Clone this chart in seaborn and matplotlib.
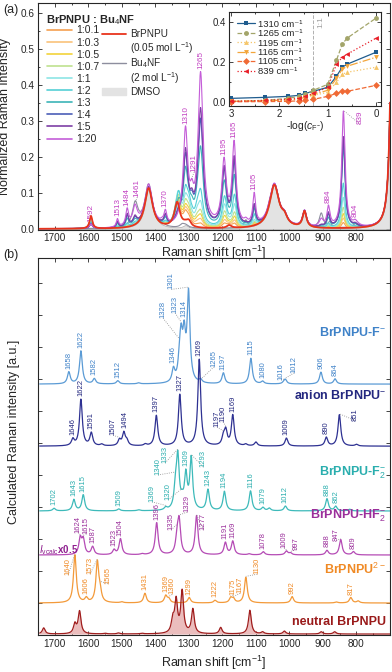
import numpy as np
import matplotlib
matplotlib.use("Agg")
import matplotlib.pyplot as plt
import seaborn as sns
from matplotlib.lines import Line2D
from matplotlib.patches import Patch
from matplotlib.ticker import MultipleLocator, NullFormatter, FixedLocator

sns.set_theme(style="ticks")
plt.rcParams['font.family'] = ['Liberation Sans', 'DejaVu Sans']
plt.rcParams['mathtext.fontset'] = 'custom'
plt.rcParams['mathtext.rm'] = 'Liberation Sans'
plt.rcParams['mathtext.it'] = 'Liberation Sans:italic'
plt.rcParams['mathtext.bf'] = 'Liberation Sans:bold'
plt.rcParams['axes.linewidth'] = 0.8

# ---------------- (a) measured Raman spectra ----------------
ratios = ['1:0.1', '1:0.3', '1:0.5', '1:0.7', '1:1', '1:2', '1:3', '1:4', '1:5', '1:20']
ratio_values = [0.1, 0.3, 0.5, 0.7, 1, 2, 3, 4, 5, 20]
ratio_colors = ['#F5A050', '#F9C27A', '#F2D33B', '#BFE28F', '#8EE5E5',
                '#55D0D6', '#3CB4B8', '#4B5FB8', '#7E3FA6', '#C45DD8']

# inset: band intensity vs -log(c_F-), first point = BrPNPU alone
neg_log_cf = [3.0, 2.3, 1.82, 1.6, 1.46, 1.3, 1.0, 0.82, 0.7, 0.6, 0.0]
band_pos = [1310, 1265, 1195, 1165, 1105, 839]
band_hw = [8, 9, 8, 7, 5, 6]
band_1310 = [0.02, 0.025, 0.03, 0.035, 0.045, 0.055, 0.075, 0.13, 0.175, 0.19, 0.25]
band_1265 = [0.005, 0.01, 0.02, 0.03, 0.04, 0.06, 0.09, 0.21, 0.29, 0.32, 0.42]
band_1195 = [0.005, 0.008, 0.012, 0.018, 0.025, 0.035, 0.05, 0.10, 0.14, 0.15, 0.175]
band_1165 = [0.005, 0.008, 0.012, 0.018, 0.025, 0.04, 0.06, 0.12, 0.165, 0.18, 0.225]
band_1105 = [0.003, 0.004, 0.005, 0.008, 0.01, 0.015, 0.03, 0.045, 0.055, 0.055, 0.085]
band_839 = [0.005, 0.01, 0.015, 0.02, 0.03, 0.045, 0.075, 0.19, 0.225, 0.24, 0.32]
bands = [band_1310, band_1265, band_1195, band_1165, band_1105, band_839]
band_colors = ['#1F5C8E', '#A3A56A', '#F5C66A', '#F3A53A', '#F06A35', '#E8202A']
band_markers = ['s', 'o', '^', 'v', 'D', '<']
band_styles = ['-', '--', ':', '-.', '--', ':']

# DMSO solvent
dmso_pos = [1420, 1310, 1045, 1015, 955, 693]
dmso_int = [0.112, 0.008, 0.12, 0.02, 0.045, 0.7]
dmso_hw = [14, 10, 17, 10, 7, 7]

# Bu4N+ bands of the 2 mol/L Bu4NF solution
tba_pos = [1460, 1420, 1380, 1320, 1130, 1060, 905, 880, 800]
tba_int = [0.065, 0.012, 0.01, 0.008, 0.02, 0.012, 0.04, 0.015, 0.012]
tba_hw = [10, 12, 6, 8, 6, 8, 7, 6, 12]

# neutral BrPNPU (0.05 mol/L)
neut_pos = [1592, 1335, 1300, 1180]
neut_int = [0.035, 0.07, 0.015, 0.008]
neut_hw = [5, 10, 8, 8]
neutral_share = [0.95, 0.9, 0.85, 0.8, 0.7, 0.45, 0.25, 0.12, 0.08, 0.0]

# intermediate species (strongest near 1:2)
inter_pos = [1330, 1300, 1275, 1192, 1162, 840]
inter_int = [0.06, 0.04, 0.03, 0.035, 0.03, 0.05]
inter_hw = [8, 8, 8, 7, 6, 6]
inter_share = [0.1, 0.25, 0.4, 0.55, 0.8, 1.0, 0.7, 0.35, 0.25, 0.05]

# other product bands (heights at 1:20)
prod_pos = [1592, 1513, 1484, 1461, 1370, 1291, 884, 804]
prod_int = [0.012, 0.022, 0.045, 0.02, 0.035, 0.05, 0.05, 0.008]
prod_hw = [5, 4, 5, 6, 5, 6, 5, 6]

# ---------------- (b) calculated spectra ----------------
f1_pos = [1658, 1622, 1582, 1512, 1450, 1346, 1328, 1323, 1314, 1301, 1265, 1197, 1115, 1080, 1016, 1012, 906, 864]
f1_int = [0.37, 1.03, 0.16, 0.1, 0.03, 0.4, 0.5, 1.2, 1.3, 2.75, 0.1, 0.34, 0.8, 0.08, 0.05, 0.12, 0.37, 0.16]
an_pos = [1646, 1622, 1591, 1560, 1507, 1494, 1485, 1430, 1397, 1327, 1269, 1197, 1190, 1169, 1130, 1100, 1009, 890, 851, 800]
an_int = [0.2, 1.45, 0.4, 0.05, 0.18, 0.4, 0.15, 0.05, 0.95, 1.6, 2.7, 0.25, 0.45, 0.95, 0.05, 0.12, 0.25, 0.27, 0.98, 0.05]
f2_pos = [1702, 1643, 1615, 1509, 1450, 1369, 1340, 1333, 1320, 1309, 1293, 1243, 1194, 1116, 1079, 1060, 1012, 888, 862, 820]
f2_int = [0.08, 0.35, 0.5, 0.06, 0.03, 0.08, 0.6, 1.6, 0.2, 1.05, 1.6, 0.65, 0.6, 0.62, 0.1, 0.08, 0.15, 0.38, 0.14, 0.05]
hf_pos = [1624, 1615, 1587, 1523, 1504, 1440, 1396, 1335, 1329, 1277, 1191, 1169, 1120, 1078, 1009, 997, 888, 847, 809]
hf_int = [0.5, 0.45, 0.25, 0.15, 0.5, 0.03, 1.0, 0.5, 1.0, 1.22, 0.38, 0.42, 0.03, 0.1, 0.12, 0.06, 0.14, 0.48, 0.1]
d2_pos = [1640, 1606, 1573, 1565, 1500, 1431, 1369, 1360, 1299, 1222, 1175, 1167, 1130, 992, 860, 817, 795]
d2_int = [1.5, 0.14, 1.25, 0.3, 0.03, 0.3, 0.22, 0.12, 0.17, 0.08, 0.15, 0.12, 0.8, 0.2, 0.03, 0.17, 0.06]
n_pos = [1733, 1640, 1626, 1550, 1510, 1440, 1348, 1338, 1320, 1288, 1205, 1118, 1080, 1015, 905, 865]
n_int = [0.19, 0.3, 0.7, 0.02, 0.03, 0.02, 0.4, 1.0, 1.3, 0.76, 0.2, 0.74, 0.06, 0.09, 0.07, 0.07]

calc_names = ['BrPNPU-F$^{-}$', 'anion BrPNPU$^{-}$', 'BrPNPU-F$_2^{-}$',
              'BrPNPU-HF$_2^{-}$', 'BrPNPU$^{2-}$', 'neutral BrPNPU']
calc_colors = ['#5B9BD5', '#2E3192', '#3DBABA', '#B54BB5', '#F39A3A', '#A01E1E']
calc_text_colors = ['#3F82C8', '#23277F', '#2AAEAE', '#9B2F9B', '#F08A25', '#9A1A1A']
calc_offsets = [7.84, 5.9, 3.875, 2.5, 1.0, 0.03]
name_y = [9.44, 7.47, 5.06, 3.74, 2.06, 0.4]

# peak labels: (text, peak, text_x, text_y)  None -> just above the peak
f1_labels = [('1658', 1658, None, None), ('1622', 1622, None, None), ('1582', 1582, None, None),
             ('1512', 1512, None, None), ('1346', 1346, None, None), ('1328', 1328, 1377, 9.9),
             ('1323', 1323, 1341, 10.06), ('1314', 1314, None, None), ('1301', 1301, 1352, 10.8),
             ('1265', 1262, 1225, 8.38), ('1197', 1197, None, None), ('1115', 1115, None, None),
             ('1080', 1080, None, None), ('1016', 1016, 1025, 7.97), ('1012', 1012, 986, 8.19),
             ('906', 906, None, None), ('864', 864, None, None)]
an_labels = [('1646', 1646, None, None), ('1622', 1622, None, None), ('1591', 1591, None, None),
             ('1507', 1507, 1526, None), ('1494', 1494, 1490, None), ('1397', 1397, None, None),
             ('1327', 1327, None, None), ('1269', 1269, None, None), ('1197', 1197, 1216, 6.5),
             ('1190', 1190, 1198, 6.66), ('1169', 1169, None, None), ('1009', 1009, None, None),
             ('890', 890, None, None), ('851', 851, 804, 6.7)]
f2_labels = [('1702', 1702, None, None), ('1643', 1643, None, None), ('1615', 1615, None, None),
             ('1509', 1509, None, None), ('1369', 1369, 1410, 4.16), ('1340', 1340, 1392, 5.0),
             ('1333', 1333, 1371, 5.375), ('1320', 1320, 1362, 4.22), ('1309', 1309, None, None),
             ('1293', 1293, 1257, 5.25), ('1243', 1243, None, None), ('1194', 1194, None, None),
             ('1116', 1116, None, None), ('1079', 1079, None, None), ('1012', 1012, None, None),
             ('888', 888, None, None), ('862', 862, None, None)]
hf_labels = [('1624', 1624, 1631, None), ('1615', 1615, 1607, None), ('1587', 1587, None, None),
             ('1523', 1523, None, None), ('1504', 1504, None, None), ('1396', 1396, None, None),
             ('1335', 1335, 1353, 3.28), ('1329', 1329, 1305, 3.84), ('1277', 1277, 1257, 3.28),
             ('1191', 1191, None, None), ('1169', 1169, None, None), ('1078', 1078, None, None),
             ('1009', 1009, 1016, None), ('997', 997, 980, None), ('888', 888, None, None),
             ('847', 847, 860, 2.95), ('809', 809, None, None)]
d2_labels = [('1640', 1640, 1660, 1.87), ('1606', 1606, None, None), ('1573', 1573, 1595, 1.9),
             ('1565', 1565, 1541, 1.6), ('1431', 1431, None, None), ('1369', 1369, None, None),
             ('1360', 1360, 1350, None), ('1299', 1299, None, None), ('1222', 1222, None, None),
             ('1175', 1175, 1168, 1.25), ('1167', 1167, 1147, 1.3), ('1130', 1130, 1096, 1.9),
             ('992', 992, None, None), ('817', 817, None, None)]
a_labels = [('1592', 1592, None, None), ('1513', 1513, None, None), ('1484', 1484, None, None),
            ('1461', 1461, 1454, 0.088), ('1370', 1370, None, None), ('1310', 1310, None, None),
            ('1291', 1291, 1284, 0.158), ('1265', 1265, None, None), ('1195', 1195, None, None),
            ('1165', 1165, None, None), ('1105', 1105, None, None), ('884', 884, None, None),
            ('839', 839, 789, 0.29), ('804', 804, None, None)]

wn = np.linspace(1745, 700, 3000)


def lorentz(pos, hgt, hw):
    out = np.zeros_like(wn)
    for c, h, w in zip(pos, hgt, np.broadcast_to(hw, len(pos))):
        out += h / (1 + ((wn - c) / w) ** 2)
    return out


def put_labels(ax, y, labels, color, fs, pad):
    for text, pk, tx, ty in labels:
        yp = y[np.argmin(abs(wn - pk))]
        tx = pk if tx is None else tx
        ty = yp + pad if ty is None else ty
        ax.text(tx, ty, text, rotation=90, ha='center', va='bottom', fontsize=fs, color=color)
        if abs(tx - pk) > 6 or ty > yp + 2 * pad:
            ax.plot([tx, pk], [ty, yp + pad * 0.3], ls=':', color='#8a8a8a', lw=0.6)


def style_ticks(ax):
    ax.tick_params(which='both', direction='in', top=True, right=True, width=0.6)
    ax.tick_params(which='major', length=3)
    ax.tick_params(which='minor', length=1.6)


fig = plt.figure(figsize=(3.92, 6.72), dpi=100)
ax_a = fig.add_axes([38 / 392, 1 - 230 / 672, 352 / 392, 227 / 672])
ax_b = fig.add_axes([38 / 392, 1 - 635 / 672, 352 / 392, 377 / 672])

# ---- panel (a)
dmso = lorentz(dmso_pos, dmso_int, dmso_hw)
tba = lorentz(tba_pos, tba_int, tba_hw)
neut = lorentz(neut_pos, neut_int, neut_hw)
inter = lorentz(inter_pos, inter_int, inter_hw)
prod = lorentz(prod_pos, prod_int, prod_hw)

ax_a.fill_between(wn, 0, dmso, color='#E3E3E3', lw=0.5, edgecolor='#B0B0B0', zorder=1)
sns.lineplot(x=wn, y=dmso * 0.97 + tba, ax=ax_a, color='#8D8E9E', lw=0.8, sort=False, estimator=None, zorder=2)
curve_20 = None
for i, (r, c) in enumerate(zip(ratio_values, ratio_colors)):
    y = dmso + tba * r * 0.05 / 2 + neut * neutral_share[i] + inter * inter_share[i]
    for b, p, w in zip(bands, band_pos, band_hw):
        y = y + lorentz([p], [b[i + 1]], w)
    y = y + prod * band_1265[i + 1] / band_1265[-1]
    sns.lineplot(x=wn, y=y, ax=ax_a, color=c, lw=0.8, sort=False, estimator=None, zorder=3 + i)
    curve_20 = y
sns.lineplot(x=wn, y=dmso + neut, ax=ax_a, color='#E8341C', lw=1.3, sort=False, estimator=None, zorder=20)
put_labels(ax_a, curve_20, a_labels, '#C13FC1', 5.8, 0.006)

ax_a.set_xlim(1750, 700)
ax_a.set_ylim(-0.003, 0.627)
ax_a.xaxis.set_major_locator(FixedLocator(np.arange(800, 1701, 100)))
ax_a.xaxis.set_minor_locator(MultipleLocator(50))
ax_a.yaxis.set_major_locator(MultipleLocator(0.1))
ax_a.yaxis.set_minor_locator(MultipleLocator(0.05))
ax_a.yaxis.set_major_formatter(plt.FuncFormatter(lambda v, p: f'{v:.1f}'))
style_ticks(ax_a)
ax_a.tick_params(labelsize=7.2, pad=2.5)
ax_a.set_xlabel('Raman shift [cm$^{-1}$]', fontsize=9, labelpad=0.5)
ax_a.set_ylabel('Normalized Raman intensity', fontsize=9)
ax_a.yaxis.set_label_coords(-0.078, 0.5)

ax_a.text(0.023, 0.925, 'BrPNPU : Bu$_4$NF', transform=ax_a.transAxes, fontsize=8,
          fontweight='bold', ha='left', va='center')
h1 = [Line2D([], [], color=c, lw=1.2) for c in ratio_colors]
leg1 = ax_a.legend(h1, ratios, loc='upper left', bbox_to_anchor=(0.016, 0.915), frameon=False,
                   fontsize=7.5, handlelength=2.4, handletextpad=0.4, labelspacing=0.2,
                   borderpad=0.3, borderaxespad=0)
ax_a.add_artist(leg1)
h2 = [Line2D([], [], color='#E8341C', lw=1.3), Line2D([], [], color='none'),
      Line2D([], [], color='#8D8E9E', lw=1.0), Line2D([], [], color='none'),
      Patch(facecolor='#E3E3E3', edgecolor='#E3E3E3')]
l2 = ['BrPNPU', '(0.05 mol L$^{-1}$)', 'Bu$_4$NF', '(2 mol L$^{-1}$)', 'DMSO']
ax_a.legend(h2, l2, loc='upper left', bbox_to_anchor=(0.173, 0.897), frameon=False,
            fontsize=7.2, handlelength=2.4, handletextpad=0.4, labelspacing=0.05,
            borderpad=0.3, borderaxespad=0)

# ---- inset
ins = fig.add_axes([229 / 392, 1 - 106 / 672, 152 / 392, 94 / 672])
ins.axvline(1.3, color='#B0B0B0', ls='--', lw=0.7)
ins.text(1.14, 0.43, '1:1', rotation=90, ha='center', va='top', fontsize=6, color='#A0A0A0')
for b, p, c, m, s in zip(bands, band_pos, band_colors, band_markers, band_styles):
    sns.lineplot(x=neg_log_cf, y=b, ax=ins, color=c, marker=m, markersize=3.5, markeredgewidth=0,
                 lw=0.9, linestyle=s, sort=False, estimator=None, label=f'{p} cm\u207b\u00b9')
ins.set_xlim(3.04, -0.1)
ins.set_ylim(-0.018, 0.45)
ins.xaxis.set_major_locator(MultipleLocator(1))
ins.xaxis.set_minor_locator(MultipleLocator(0.5))
ins.yaxis.set_major_locator(MultipleLocator(0.2))
ins.yaxis.set_minor_locator(MultipleLocator(0.1))
ins.yaxis.set_major_formatter(plt.FuncFormatter(lambda v, p: f'{v:.1f}'))
style_ticks(ins)
ins.tick_params(labelsize=7, pad=2)
ins.set_xlabel('-log($c_{\\mathrm{F}^{-}}$)', fontsize=7.5, labelpad=0)
ins.set_ylabel('')
ins.legend(loc='upper left', frameon=False, fontsize=6.8, handlelength=1.9, handletextpad=0.4,
           labelspacing=0.05, borderpad=0.3, bbox_to_anchor=(0.0, 1.0))

# ---- panel (b)
spectra = [(f1_pos, f1_int, f1_labels), (an_pos, an_int, an_labels), (f2_pos, f2_int, f2_labels),
           (hf_pos, hf_int, hf_labels), (d2_pos, d2_int, d2_labels), (n_pos, n_int, None)]
for (pos, hgt, labs), base, col, tcol, name, ny in zip(spectra, calc_offsets, calc_colors,
                                                        calc_text_colors, calc_names, name_y):
    y = base + lorentz(pos, hgt, 5)
    if labs is None:
        ax_b.fill_between(wn, base, y, color='#EBBDBD', lw=0)
    sns.lineplot(x=wn, y=y, ax=ax_b, color=col, lw=0.9, sort=False, estimator=None)
    if labs is not None:
        put_labels(ax_b, y, labs, tcol, 5.5, 0.09)
    ax_b.text(712, ny, name, ha='right', va='center', fontsize=9, fontweight='bold', color=tcol)
ax_b.text(1746, 2.66, '$I_{\\mathrm{vcalc}}$x0.5', ha='left', va='center', fontsize=7,
          fontweight='bold', color='#8E1E8E')

ax_b.set_xlim(1750, 700)
ax_b.set_ylim(0, 11.78)
ax_b.xaxis.set_major_locator(FixedLocator(np.arange(800, 1701, 100)))
ax_b.xaxis.set_minor_locator(MultipleLocator(50))
ax_b.yaxis.set_major_locator(MultipleLocator(1))
ax_b.yaxis.set_major_formatter(NullFormatter())
style_ticks(ax_b)
ax_b.tick_params(labelsize=7.2, pad=3)
ax_b.set_xlabel('Raman shift [cm$^{-1}$]', fontsize=9, labelpad=3)
ax_b.set_ylabel('Calculated Raman intensity [a.u.]', fontsize=9)
ax_b.yaxis.set_label_coords(-0.05, 0.54)

fig.text(3 / 392, 1 - 10 / 672, '(a)', fontsize=9, ha='left', va='center')
fig.text(3 / 392, 1 - 255 / 672, '(b)', fontsize=9, ha='left', va='center')

fig.savefig('out.png', dpi=100)
